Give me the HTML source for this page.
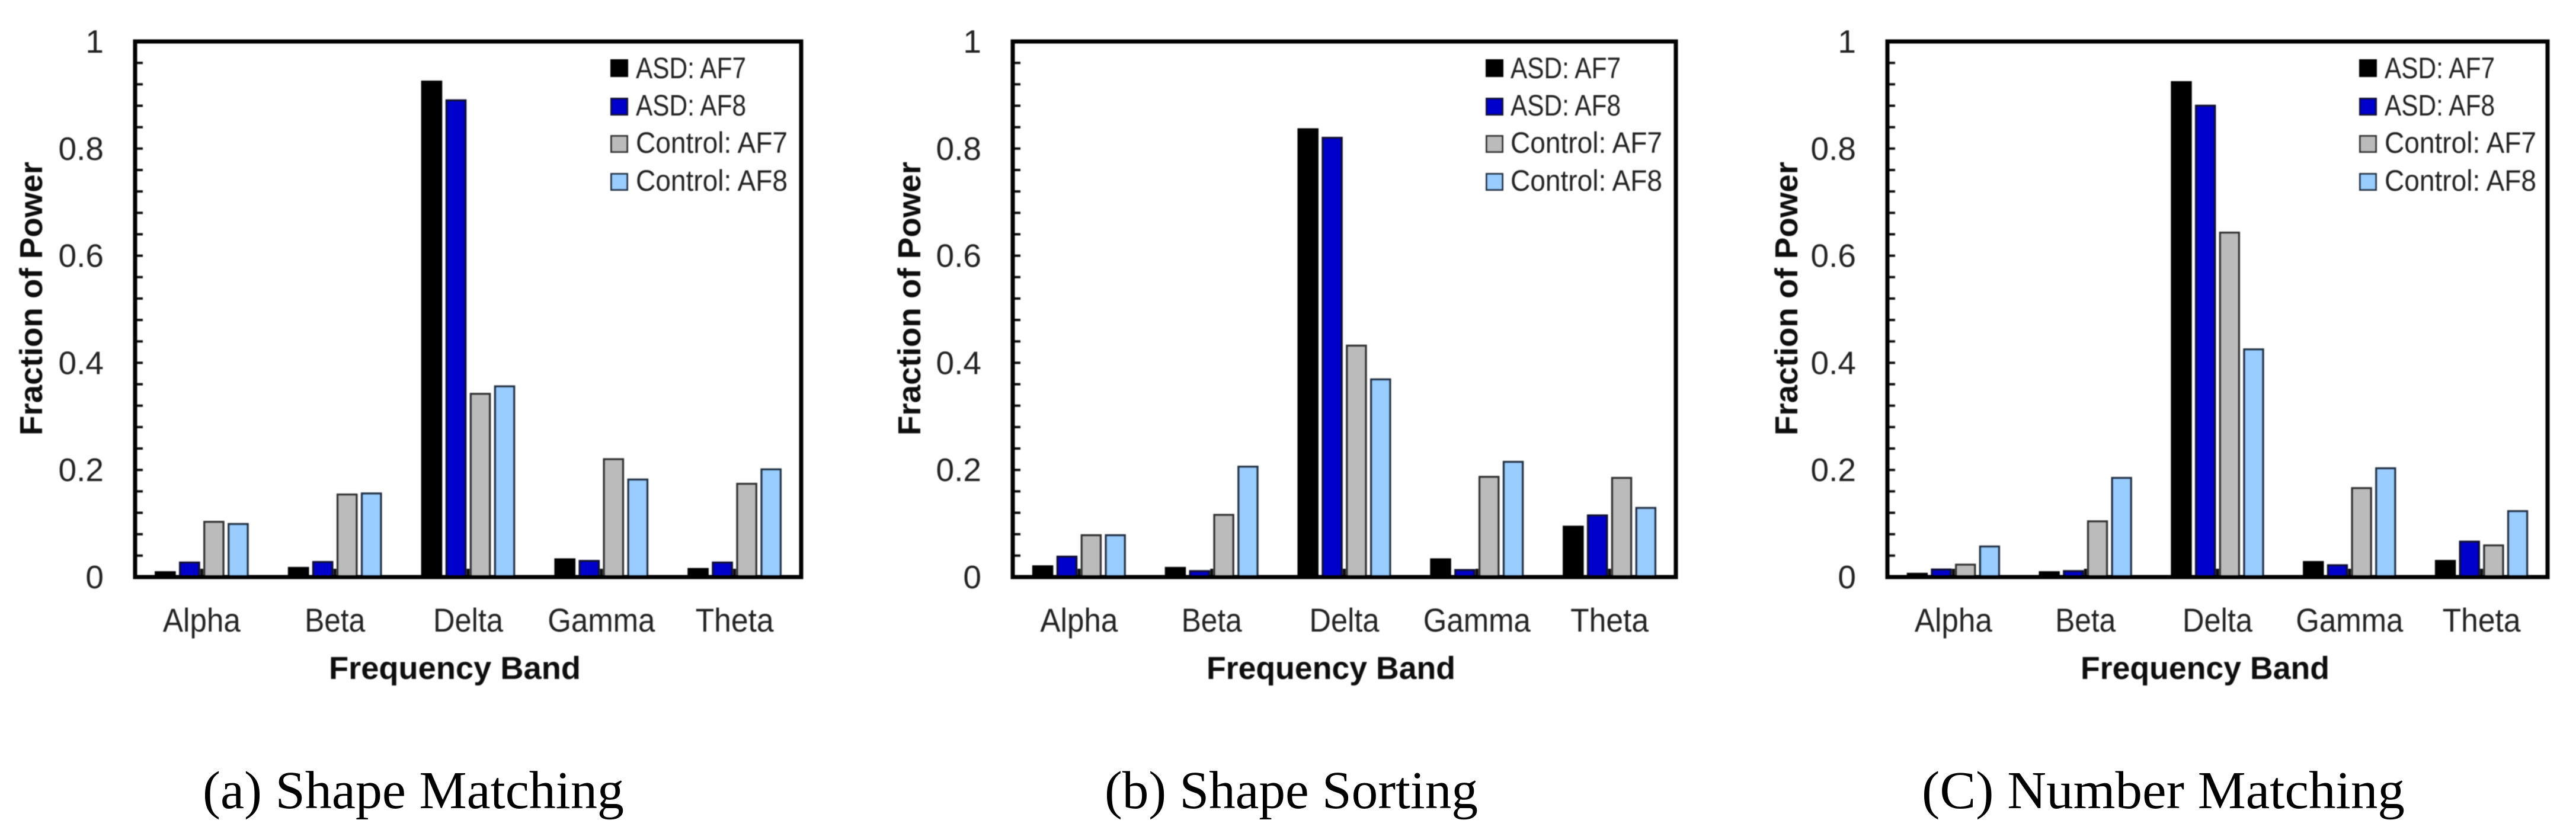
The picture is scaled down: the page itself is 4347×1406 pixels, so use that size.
<!DOCTYPE html>
<html lang="en">
<head>
<meta charset="utf-8">
<title>Fraction of Power by Frequency Band</title>
<style>
  html, body { margin: 0; padding: 0; background: #fff; }
  body { width: 4347px; height: 1406px; overflow: hidden; }
  svg { display: block; }
  .chart-text { font-family: "Liberation Sans", Arial, sans-serif; fill: #222; }
  .axis-title { font-family: "Liberation Sans", Arial, sans-serif; font-weight: bold; font-size: 54px; fill: #111; }
  .caption { font-family: "Liberation Serif", "Times New Roman", serif; font-size: 90px; fill: #000; }
</style>
</head>
<body>
<svg id="figure" xmlns="http://www.w3.org/2000/svg" width="4347" height="1406" viewBox="0 0 4347 1406">
  <defs>
    <filter id="soft" x="-5%" y="-5%" width="110%" height="110%"><feGaussianBlur stdDeviation="0.9"/></filter>
  </defs>
  <rect width="4347" height="1406" fill="#fff"/>

  <g id="panel-a" filter="url(#soft)">
    <text class="axis-title" x="555" y="1146" textLength="425" lengthAdjust="spacingAndGlyphs">Frequency Band</text>
    <text class="axis-title" transform="translate(71,735) rotate(-90)" textLength="462" lengthAdjust="spacingAndGlyphs">Fraction of Power</text>
  </g>
  <g id="panel-b" filter="url(#soft)">
    <text class="axis-title" x="2036" y="1146" textLength="420" lengthAdjust="spacingAndGlyphs">Frequency Band</text>
    <text class="axis-title" transform="translate(1553,735) rotate(-90)" textLength="462" lengthAdjust="spacingAndGlyphs">Fraction of Power</text>
  </g>
  <g id="panel-c" filter="url(#soft)">
    <text class="axis-title" x="3511" y="1146" textLength="420" lengthAdjust="spacingAndGlyphs">Frequency Band</text>
    <text class="axis-title" transform="translate(3033,735) rotate(-90)" textLength="462" lengthAdjust="spacingAndGlyphs">Fraction of Power</text>
  </g>

  <text class="caption" x="342" y="1364" textLength="711" lengthAdjust="spacingAndGlyphs">(a) Shape Matching</text>
  <text class="caption" x="1864" y="1364" textLength="630" lengthAdjust="spacingAndGlyphs">(b) Shape Sorting</text>
  <text class="caption" x="3243" y="1364" textLength="815" lengthAdjust="spacingAndGlyphs">(C) Number Matching</text>
</svg>

<script>
// ---- chart data ----
const categories = ['Alpha', 'Beta', 'Delta', 'Gamma', 'Theta'];
const seriesNames = ['ASD: AF7', 'ASD: AF8', 'Control: AF7', 'Control: AF8'];
const yTickLabels = ['0', '0.2', '0.4', '0.6', '0.8', '1'];
const yTickValues = [0, 0.2, 0.4, 0.6, 0.8, 1];
const yMinorTickValues = [0.04, 0.08, 0.12, 0.16, 0.2, 0.24, 0.28, 0.32, 0.36, 0.4, 0.44, 0.48, 0.52, 0.56, 0.6, 0.64, 0.68, 0.72, 0.76, 0.8, 0.84, 0.88, 0.92, 0.96];

const shapeMatchingAsdAf7 = [0.009, 0.017, 0.925, 0.033, 0.015];
const shapeMatchingAsdAf8 = [0.027, 0.028, 0.890, 0.030, 0.027];
const shapeMatchingControlAf7 = [0.103, 0.154, 0.342, 0.220, 0.174];
const shapeMatchingControlAf8 = [0.099, 0.156, 0.356, 0.182, 0.201];

const shapeSortingAsdAf7 = [0.020, 0.017, 0.836, 0.033, 0.094];
const shapeSortingAsdAf8 = [0.038, 0.011, 0.820, 0.013, 0.115];
const shapeSortingControlAf7 = [0.078, 0.116, 0.432, 0.187, 0.185];
const shapeSortingControlAf8 = [0.078, 0.206, 0.369, 0.215, 0.129];

const numberMatchingAsdAf7 = [0.006, 0.009, 0.924, 0.028, 0.030];
const numberMatchingAsdAf8 = [0.014, 0.011, 0.880, 0.022, 0.066];
const numberMatchingControlAf7 = [0.023, 0.104, 0.643, 0.166, 0.059];
const numberMatchingControlAf8 = [0.057, 0.185, 0.425, 0.203, 0.123];

// ---- layout (not data) ----
const SVG_NS = 'http://www.w3.org/2000/svg';
const plotTop = 70;
const plotBottom = 974;
const seriesFill = ['#000000', '#0000CC', '#BBBBBB', '#99CCFF'];
const seriesStroke = ['#000000', '#111133', '#333333', '#223344'];
const categoryTextWidth = { Alpha: 131, Beta: 102, Delta: 118, Gamma: 181, Theta: 132 };
const legendTextWidth = { 'ASD: AF7': 186, 'ASD: AF8': 186, 'Control: AF7': 256, 'Control: AF8': 256 };
const legendRowTops = [100, 165, 228, 292];
const legendRowBaselines = [132, 195, 258, 322];

const panels = [
  { group: 'panel-a', left: 228, right: 1352, labelRight: 175, legendSwatch: 1030, legendText: 1073,
    series: [shapeMatchingAsdAf7, shapeMatchingAsdAf8, shapeMatchingControlAf7, shapeMatchingControlAf8] },
  { group: 'panel-b', left: 1709, right: 2828, labelRight: 1656, legendSwatch: 2507, legendText: 2549,
    series: [shapeSortingAsdAf7, shapeSortingAsdAf8, shapeSortingControlAf7, shapeSortingControlAf8] },
  { group: 'panel-c', left: 3185, right: 4299, labelRight: 3132, legendSwatch: 3981, legendText: 4024,
    series: [numberMatchingAsdAf7, numberMatchingAsdAf8, numberMatchingControlAf7, numberMatchingControlAf8] }
];

function make(tag, attrs, text) {
  const el = document.createElementNS(SVG_NS, tag);
  for (const key in attrs) el.setAttribute(key, attrs[key]);
  if (text !== undefined) el.textContent = text;
  return el;
}

function yScale(value) {
  return plotBottom - value * (plotBottom - plotTop);
}

function bandCenter(panel, index) {
  const band = (panel.right - panel.left) / categories.length;
  return panel.left + band * (index + 0.5);
}

panels.forEach(function (panel) {
  const root = document.getElementById(panel.group);
  const band = (panel.right - panel.left) / categories.length;
  const pitch = band * 0.1825;
  const barWidth = band * 0.143;

  // y minor ticks
  yMinorTickValues.forEach(function (value) {
    const tick = make('line', { x1: panel.left, x2: panel.left + 13, y1: yScale(value), y2: yScale(value), stroke: '#111', 'stroke-width': 4 });
    
    
    root.appendChild(tick);
  });

  // y tick labels
  yTickValues.forEach(function (value, i) {
    const label = make('text', { class: 'chart-text', x: panel.labelRight, y: yScale(value) + 19, 'text-anchor': 'end', 'font-size': 55 }, yTickLabels[i]);
    
    
    root.appendChild(label);
  });

  // x ticks and category labels
  categories.forEach(function (name, c) {
    const cx = bandCenter(panel, c);
    const tick = make('line', { x1: cx, x2: cx, y1: plotBottom - 14, y2: plotBottom, stroke: '#111', 'stroke-width': 5 });
    
    
    root.appendChild(tick);

    const label = make('text', { class: 'chart-text', x: cx, y: 1066, 'text-anchor': 'middle', 'font-size': 56, textLength: categoryTextWidth[name], lengthAdjust: 'spacingAndGlyphs' }, name);
    
    
    root.appendChild(label);
  });

  // bars
  panel.series.forEach(function (values, s) {
    values.forEach(function (value, c) {
      const cx = bandCenter(panel, c) + (s - 1.5) * pitch;
      const bar = make('rect', {
        x: cx - barWidth / 2, y: yScale(value), width: barWidth, height: plotBottom - yScale(value),
        fill: seriesFill[s], stroke: seriesStroke[s], 'stroke-width': 3.5
      });
      
      
      root.appendChild(bar);
    });
  });

  // plot frame
  const frame = make('rect', { x: panel.left, y: plotTop, width: panel.right - panel.left, height: plotBottom - plotTop, fill: 'none', stroke: '#000', 'stroke-width': 7 });
  
  
  root.appendChild(frame);

  // legend
  seriesNames.forEach(function (name, s) {
    const swatch = make('rect', { x: panel.legendSwatch + 1.5, y: legendRowTops[s] + 1.5, width: 27, height: 27, fill: seriesFill[s], stroke: seriesStroke[s], 'stroke-width': 3 });
    
    
    root.appendChild(swatch);

    const label = make('text', { class: 'chart-text', x: panel.legendText, y: legendRowBaselines[s], 'font-size': 50, textLength: legendTextWidth[name], lengthAdjust: 'spacingAndGlyphs' }, name);
    
    
    root.appendChild(label);
  });
});
</script>
</body>
</html>
